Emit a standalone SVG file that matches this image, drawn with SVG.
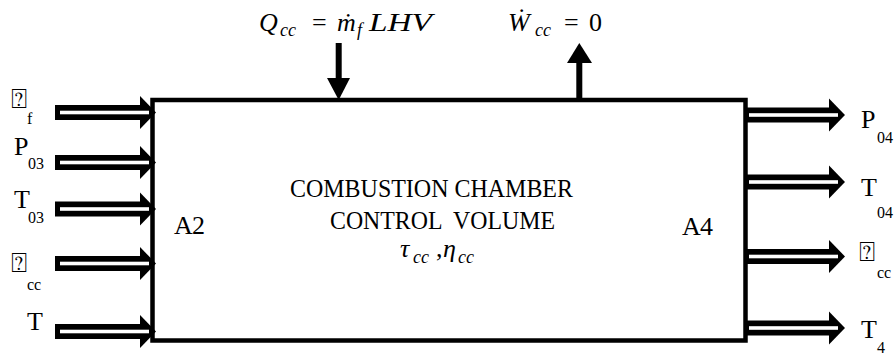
<svg xmlns="http://www.w3.org/2000/svg" xmlns:xlink="http://www.w3.org/1999/xlink" width="896" height="360" viewBox="0 0 896 360">
<style>
text { font-family: "Liberation Serif", "DejaVu Serif", serif; fill: #000; }
.big { font-size: 25px; }
.sub { font-size: 16px; }
.math { font-style: italic; font-size: 26px; }
.msub { font-style: italic; font-size: 18px; }
.up { font-size: 26px; }
.mis { font-size: 27px; }
</style>
<defs>
<g id="harrow">
<rect x="0" y="-7.5" width="88" height="15" fill="#000"/>
<polygon points="85,-16.5 101,0 85,16.5" fill="#000"/>
<rect x="5" y="-1.8" width="89" height="3.6" fill="#fff"/>
</g>
</defs>

<g id="control-volume">
<rect x="152.5" y="100" width="593" height="240.5" fill="#fff" stroke="#000" stroke-width="4.5"/>
<text class="big" x="290" y="197" textLength="283" lengthAdjust="spacingAndGlyphs">COMBUSTION CHAMBER</text>
<text class="big" x="330" y="229" textLength="225" lengthAdjust="spacingAndGlyphs" xml:space="preserve">CONTROL  VOLUME</text>
<text class="math" y="257"><tspan x="400">τ</tspan><tspan class="msub" x="413" y="263">cc</tspan><tspan x="436" y="257" font-style="normal">,</tspan><tspan x="443">η</tspan><tspan class="msub" x="458" y="263">cc</tspan></text>
<text class="up" x="174" y="234">A<tspan x="192">2</tspan></text>
<text class="up" x="682" y="235">A<tspan x="700">4</tspan></text>
</g>

<g id="heat-input">
<text class="math" y="31"><tspan x="259">Q</tspan><tspan class="msub" x="280" y="36">cc</tspan><tspan x="312" y="31" font-style="normal">=</tspan><tspan x="337">ṁ</tspan><tspan class="msub" x="357" y="36">f</tspan></text>
<text class="math" x="369" y="31" textLength="63" lengthAdjust="spacingAndGlyphs">LHV</text>
</g>

<g id="work-output">
<text class="math" y="31"><tspan x="508">Ẇ</tspan><tspan class="msub" x="535" y="36">cc</tspan><tspan x="564" y="31" font-style="normal">=</tspan><tspan x="589" font-style="normal">0</tspan></text>
</g>

<g id="inlet-labels">
<text class="mis" x="11" y="108">⍰</text><text class="sub" x="27" y="124">f</text>
<text class="up" x="14" y="155">P</text><text class="sub" x="28" y="169">03</text>
<text class="up" x="14" y="208">T</text><text class="sub" x="28" y="223">03</text>
<text class="mis" x="11" y="272">⍰</text><text class="sub" x="27" y="290">cc</text>
<text class="up" x="27" y="330">T</text>
</g>

<g id="outlet-labels">
<text class="up" x="861" y="128">P</text><text class="sub" x="877" y="143">04</text>
<text class="up" x="861" y="196">T</text><text class="sub" x="877" y="218">04</text>
<text class="mis" x="859" y="261">⍰</text><text class="sub" x="877" y="278">cc</text>
<text class="up" x="861" y="338">T</text><text class="sub" x="877" y="353">4</text>
</g>

<g id="connectors">
<use xlink:href="#harrow" transform="translate(55,112.5)"/>
<use xlink:href="#harrow" transform="translate(55,162.5)"/>
<use xlink:href="#harrow" transform="translate(55,209)"/>
<use xlink:href="#harrow" transform="translate(55,263.5)"/>
<use xlink:href="#harrow" transform="translate(55,331.5)"/>
<use xlink:href="#harrow" transform="translate(744,115)"/>
<use xlink:href="#harrow" transform="translate(744,182)"/>
<use xlink:href="#harrow" transform="translate(744,256.5)"/>
<use xlink:href="#harrow" transform="translate(744,328)"/>
<rect x="335.7" y="43" width="6" height="40" fill="#000"/>
<polygon points="327,78 350,78 338.7,100" fill="#000"/>
<rect x="576.3" y="58" width="6" height="42" fill="#000"/>
<polygon points="567,63 592,63 579.3,43" fill="#000"/>
</g>
</svg>
